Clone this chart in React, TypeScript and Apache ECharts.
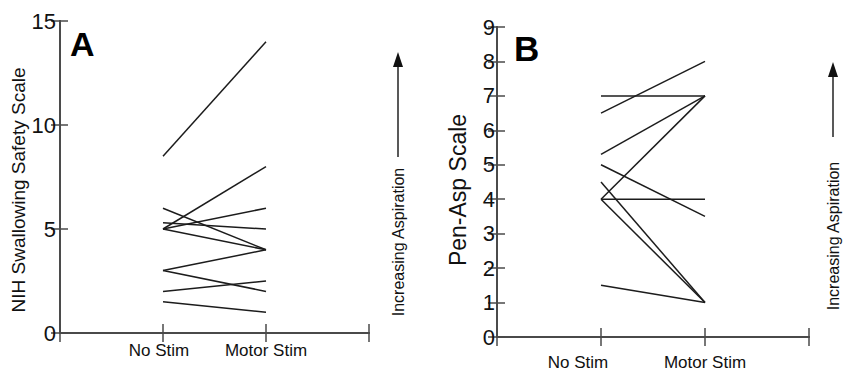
import React, { useEffect, useRef } from "react";
import * as echarts from "echarts";

const categories = ["No Stim", "Motor Stim"];
const nihNoStim = [8.5, 5, 5, 5.3, 6, 5, 3, 3, 2, 1.5];
const nihMotorStim = [14, 8, 6, 5, 4, 4, 4, 2, 2.5, 1];
const penNoStim = [7, 6.5, 5.3, 5, 4.5, 4, 4, 4, 1.5];
const penMotorStim = [7, 8, 7, 3.5, 1, 7, 4, 1, 1];
const nihTicks = [0, 5, 10, 15];
const penTicks = [0, 1, 2, 3, 4, 5, 6, 7, 8, 9];

const FONT = "'Liberation Sans', Arial, Helvetica, sans-serif";
const AXIS_COLOR = "#4a4a4a";
const LINE_COLOR = "#1c1c1c";

export default function App() {
  const ref = useRef<HTMLDivElement>(null);
  useEffect(() => {
    if (!ref.current) return;
    const chart = echarts.init(ref.current, undefined, { renderer: "svg" });

    const axisLine = { show: true, lineStyle: { color: AXIS_COLOR, width: 1.8 } };
    const xLabel = (shiftNo: number) => ({
      fontSize: 17,
      fontFamily: FONT,
      color: "#111",
      formatter: (v: number) =>
        v === 1 ? "{n|" + categories[0] + "}" : v === 2 ? "{m|" + categories[1] + "}" : "",
      rich: {
        n: { fontSize: 17, fontFamily: FONT, color: "#111", padding: [0, shiftNo, 0, 0] },
        m: { fontSize: 17, fontFamily: FONT, color: "#111" },
      },
    });

    const xAxes: any[] = [];
    const yAxes: any[] = [];
    [0, 1].forEach((g) => {
      xAxes.push({
        type: "value",
        gridIndex: g,
        min: 0,
        max: 3,
        interval: 1,
        position: "bottom",
        axisLine,
        splitLine: { show: false },
        axisTick: { show: true, inside: true, length: 9, lineStyle: { color: AXIS_COLOR, width: 1.5 } },
        axisLabel: { ...xLabel(g === 0 ? 8 : 46), margin: g === 0 ? 9 : 17 },
      });
      xAxes.push({
        type: "value",
        gridIndex: g,
        min: 0,
        max: 3,
        interval: 1,
        position: "top",
        axisLine,
        splitLine: { show: false },
        axisTick: { show: true, inside: true, length: 9, lineStyle: { color: AXIS_COLOR, width: 1.5 } },
        axisLabel: { show: false },
      });
    });

    const yName = ["NIH Swallowing Safety Scale", "Pen-Asp Scale"];
    const yMax = [nihTicks[nihTicks.length - 1], penTicks[penTicks.length - 1]];
    const yInt = [nihTicks[1] - nihTicks[0], penTicks[1] - penTicks[0]];
    [0, 1].forEach((g) => {
      yAxes.push({
        type: "value",
        gridIndex: g,
        min: 0,
        max: yMax[g],
        interval: yInt[g],
        position: "left",
        name: yName[g],
        nameLocation: "middle",
        nameRotate: 90,
        nameGap: g === 0 ? 32 : 28,
        nameTextStyle: {
          fontSize: g === 0 ? 19 : 23,
          fontFamily: FONT,
          color: "#111",
          padding: g === 0 ? [0, 26, 0, 0] : [0, 16, 0, 0],
        },
        axisLine,
        splitLine: { show: false },
        axisTick: { show: true, inside: true, length: 8, lineStyle: { color: AXIS_COLOR, width: 1.5 } },
        axisLabel: {
          fontSize: 22,
          fontFamily: FONT,
          color: "#111",
          margin: g === 0 ? 4 : 2,
        },
      });
      yAxes.push({
        type: "value",
        gridIndex: g,
        min: 0,
        max: yMax[g],
        interval: yInt[g],
        position: "right",
        axisLine,
        splitLine: { show: false },
        axisTick: { show: true, inside: true, length: 9, lineStyle: { color: AXIS_COLOR, width: 1.5 } },
        axisLabel: { show: false },
      });
    });

    const series: any[] = [];
    nihNoStim.forEach((v, i) => {
      series.push({
        type: "line",
        xAxisIndex: 0,
        yAxisIndex: 0,
        symbol: "none",
        silent: true,
        lineStyle: { color: LINE_COLOR, width: 1.5 },
        data: [
          [1, v],
          [2, nihMotorStim[i]],
        ],
      });
    });
    penNoStim.forEach((v, i) => {
      series.push({
        type: "line",
        xAxisIndex: 2,
        yAxisIndex: 2,
        symbol: "none",
        silent: true,
        lineStyle: { color: LINE_COLOR, width: 1.5 },
        data: [
          [1, v],
          [2, penMotorStim[i]],
        ],
      });
    });

    const arrow = (x: number, headTop: number, headBottom: number, lineBottom: number) => [
      {
        type: "line",
        shape: { x1: x, y1: headBottom, x2: x, y2: lineBottom },
        style: { stroke: "#222", lineWidth: 1.5 },
      },
      {
        type: "polygon",
        shape: {
          points: [
            [x, headTop],
            [x - 5, headBottom],
            [x + 5, headBottom],
          ],
        },
        style: { fill: "#111" },
      },
    ];

    chart.setOption({
      animation: false,
      backgroundColor: "#fff",
      grid: [
        { left: 60, top: 21, width: 309, height: 312, containLabel: false },
        { left: 497, top: 27, width: 312, height: 312, containLabel: false },
      ],
      xAxis: xAxes,
      yAxis: yAxes,
      series,
      graphic: [
        {
          type: "text",
          left: 70,
          top: 27,
          style: { text: "A", font: "bold 34px " + FONT, fill: "#000" },
        },
        {
          type: "text",
          left: 514,
          top: 31,
          style: { text: "B", font: "bold 35px " + FONT, fill: "#000" },
        },
        ...arrow(398, 52, 67, 157),
        {
          type: "text",
          x: 398,
          y: 242,
          rotation: Math.PI / 2,
          style: {
            text: "Increasing Aspiration",
            font: "16px " + FONT,
            fill: "#111",
            align: "center",
            verticalAlign: "middle",
          },
        },
        ...arrow(833, 62, 77, 137),
        {
          type: "text",
          x: 833,
          y: 236,
          rotation: Math.PI / 2,
          style: {
            text: "Increasing Aspiration",
            font: "16px " + FONT,
            fill: "#111",
            align: "center",
            verticalAlign: "middle",
          },
        },
      ],
    });
    return () => chart.dispose();
  }, []);
  return (
    <div
      ref={ref}
      style={{ position: "fixed", left: 0, top: 0, width: 843, height: 371, background: "#fff" }}
    />
  );
}
